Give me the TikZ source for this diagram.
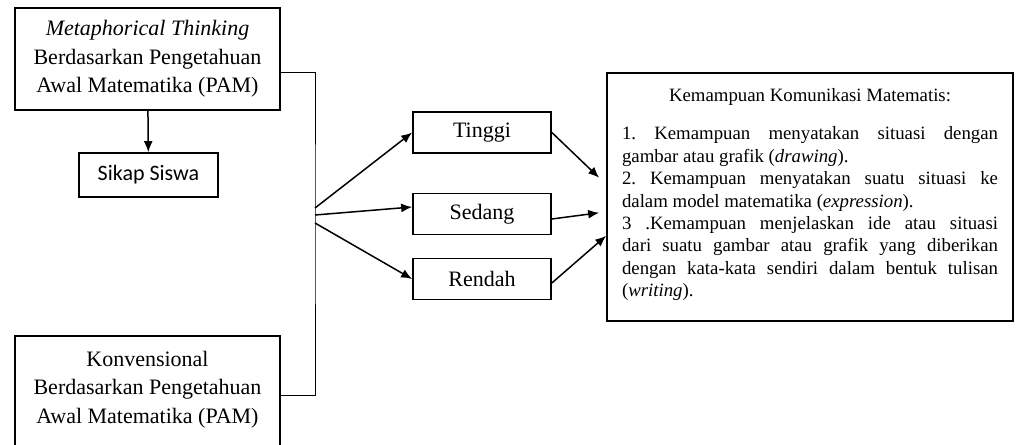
\documentclass[tikz,border=0pt]{standalone}
\usepackage{fontspec}
\setmainfont{Liberation Serif}
\newfontfamily\calibrifont{Carlito}
\usetikzlibrary{arrows.meta}
\frenchspacing
\tikzset{
        boxnode/.style = {rectangle, draw=black, line width=1.7pt, inner sep=0pt,
            align=center, font=\fontsize{22}{28.5}\selectfont},
        pam_n/.style = {boxnode, minimum width=265pt, minimum height=102pt},
        lvl_n/.style = {boxnode, minimum width=138pt, minimum height=41pt},
        sikap_n/.style = {boxnode, font=\calibrifont\fontsize{22}{28}\selectfont,
            minimum width=139pt, minimum height=44pt},
        kmk_n/.style = {rectangle, draw=black, line width=1.7pt, inner xsep=15pt,
            inner ysep=16pt, text width=376pt, align=justify,
            font=\fontsize{18.8}{22.4}\selectfont},
        link/.style = {->, line width=1.5pt},
        bracket/.style = {line width=1pt}
    }

\begin{document}
\begin{tikzpicture}[x=1pt, y=-1pt, >={Latex[length=11pt,width=9pt]}]
    \useasboundingbox (0,0) rectangle (1016,444);
    \clip (0,0) rectangle (1016,444);
    % left column
    \node [pam_n] (meta) at (147.5,59)
        {\textit{Metaphorical Thinking}\\Berdasarkan Pengetahuan\\Awal Matematika (PAM)};
    \node [sikap_n] (sikap) at (148.5,175) {Sikap Siswa};
    \node [pam_n, anchor=north, minimum height=0pt, inner ysep=15pt] (konv) at (147.5,335)
        {Konvensional\\Berdasarkan Pengetahuan\\Awal Matematika (PAM)\\\strut};
    % levels
    \node [lvl_n] (tinggi) at (482,132.5) {Tinggi};
    \node [lvl_n] (sedang) at (482,214) {Sedang};
    \node [lvl_n] (rendah) at (482,279) {Rendah};
    % result
    \node [kmk_n, anchor=north] (kmk) at (810,72) {%
        {\centering Kemampuan Komunikasi Matematis:\par}\vspace{15.6pt}%
        1. Kemampuan menyatakan situasi dengan\linebreak gambar atau grafik (\textit{drawing}).\\
        2. Kemampuan menyatakan suatu situasi ke\linebreak dalam model matematika (\textit{expression}).\\
        3 .Kemampuan menjelaskan ide atau situasi\linebreak dari suatu gambar atau grafik yang diberikan\linebreak
        dengan kata-kata sendiri dalam bentuk tulisan\linebreak (\textit{writing}).\rule[-8pt]{0pt}{8pt}};
    \coordinate (hub) at (315,215);
    % connectors
    \draw [link] (meta) -- (sikap);
    \draw [bracket] ([yshift=-13pt]meta.east) -| (hub) |- ([yshift=-60pt]konv.north east);
    \draw [link] ([yshift=7pt]hub) -- (tinggi.west);
    \draw [link] (hub) -- ([yshift=7pt]sedang.west);
    \draw [link] ([yshift=-8pt]hub) -- (rendah.west);
    \draw [link] (tinggi.east) -- ([xshift=-7pt,yshift=19pt]kmk.west);
    \draw [link] ([yshift=-5pt]sedang.east) -- ([xshift=-7pt,yshift=-16pt]kmk.west);
    \draw [link] ([yshift=-4pt]rendah.east) -- ([yshift=-39pt]kmk.west);
\end{tikzpicture}
\end{document}
